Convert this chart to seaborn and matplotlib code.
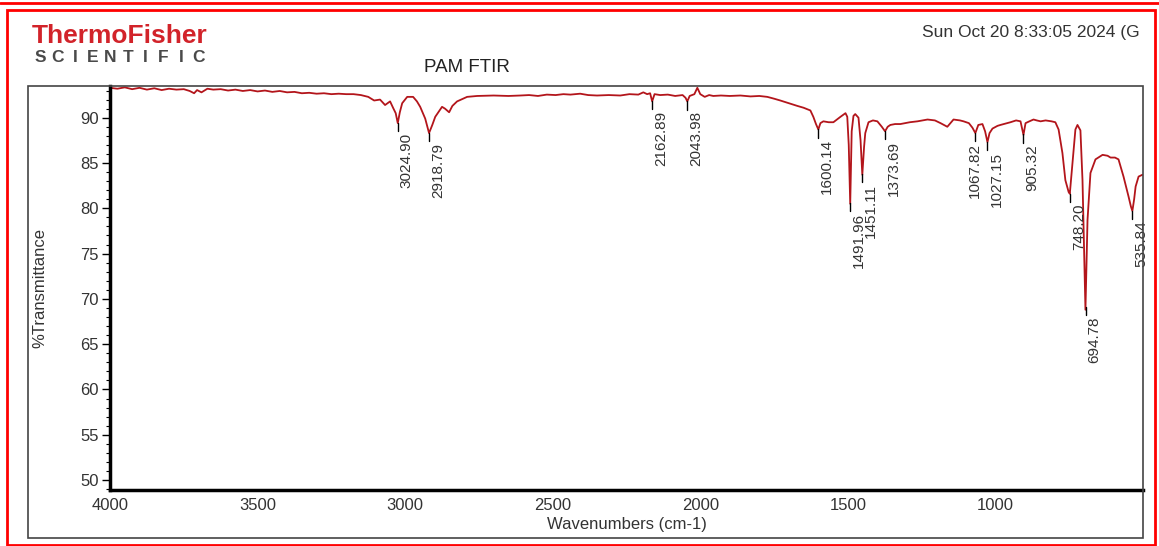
import numpy as np
import pandas as pd
import matplotlib
matplotlib.use("Agg")
import matplotlib.pyplot as plt
import seaborn as sns
from matplotlib.patches import Rectangle
from matplotlib.lines import Line2D

# spectrum: wavenumber (cm-1) and %T
wavenumber = [
    4000, 3975, 3950, 3925, 3900, 3875, 3850, 3825, 3800, 3775, 3750, 3730, 3715, 3705,
    3690, 3670, 3650, 3625, 3600, 3575, 3550, 3525, 3500, 3475, 3450, 3425, 3400, 3375,
    3350, 3325, 3300, 3275, 3250, 3225, 3200, 3175, 3150, 3125, 3105, 3085, 3068, 3051,
    3041, 3032, 3025, 3018, 3010, 2993, 2973, 2960, 2949, 2932, 2919, 2908, 2898, 2875,
    2865, 2851, 2840, 2824, 2790, 2756, 2700, 2650, 2610, 2580, 2550, 2520, 2490, 2464,
    2440, 2407, 2380, 2350, 2310, 2271, 2240, 2210, 2193, 2180, 2170, 2163, 2155, 2136,
    2110, 2085, 2060, 2050, 2044, 2036, 2020, 2010, 2000, 1985, 1970, 1956, 1930, 1900,
    1864, 1830, 1800, 1773, 1750, 1729, 1700, 1671, 1650, 1627, 1617, 1608, 1600, 1593,
    1583, 1565, 1549, 1525, 1508, 1502, 1497, 1492, 1487, 1481, 1475, 1464, 1457, 1451,
    1445, 1441, 1430, 1415, 1400, 1385, 1374, 1365, 1356, 1340, 1322, 1290, 1264, 1230,
    1205, 1186, 1163, 1150, 1142, 1120, 1108, 1090, 1078, 1068, 1058, 1044, 1035, 1027,
    1020, 1010, 993, 983, 960, 949, 930, 915, 905, 898, 885, 871, 860, 847,
    830, 810, 797, 786, 773, 763, 752, 748, 739, 729, 722, 712, 705, 700,
    695, 688, 678, 661, 637, 620, 610, 595, 583, 566, 549, 541, 536, 530,
    525, 515, 502,
]
transmittance = [
    93.3, 93.2, 93.35, 93.15, 93.3, 93.1, 93.25, 93.05, 93.2, 93.1, 93.15, 92.95, 92.7, 93.05,
    92.8, 93.2, 93.1, 93.15, 93.0, 93.1, 92.95, 93.05, 92.9, 93.0, 92.85, 92.95, 92.8, 92.85,
    92.7, 92.75, 92.65, 92.7, 92.6, 92.65, 92.6, 92.6, 92.5, 92.3, 91.9, 92.0, 91.4, 91.8,
    91.1, 90.5, 89.4, 90.6, 91.6, 92.3, 92.3, 91.8, 91.2, 89.9, 88.3, 89.2, 90.1, 91.2,
    91.0, 90.6, 91.3, 91.8, 92.3, 92.4, 92.45, 92.4, 92.45, 92.5, 92.4, 92.55, 92.5, 92.6,
    92.55, 92.65, 92.5, 92.45, 92.5, 92.45, 92.6, 92.55, 92.8, 92.6, 92.7, 91.8, 92.6, 92.5,
    92.55, 92.4, 92.5, 92.2, 91.8, 92.4, 92.6, 93.3, 92.6, 92.3, 92.5, 92.4, 92.45, 92.4,
    92.45, 92.35, 92.4, 92.3, 92.1, 91.9, 91.6, 91.3, 91.1, 90.8, 90.1, 89.3, 88.7, 89.4,
    89.6, 89.5, 89.5, 90.1, 90.5, 90.1, 87.0, 80.5, 88.5, 90.2, 90.4, 90.0, 87.5, 83.7,
    86.8, 88.3, 89.5, 89.7, 89.6, 89.0, 88.5, 89.0, 89.2, 89.3, 89.3, 89.5, 89.6, 89.8,
    89.7, 89.4, 89.0, 89.5, 89.8, 89.7, 89.6, 89.4, 88.9, 88.3, 89.2, 89.3, 88.5, 87.3,
    88.3, 88.8, 89.1, 89.2, 89.4, 89.5, 89.7, 89.6, 88.1, 89.4, 89.6, 89.8, 89.7, 89.6,
    89.7, 89.6, 89.5, 88.7, 86.1, 83.1, 81.8, 81.6, 85.0, 88.7, 89.2, 88.6, 83.1, 75.7,
    68.8, 78.7, 83.9, 85.4, 85.9, 85.8, 85.6, 85.6, 85.4, 83.5, 81.3, 80.2, 79.7, 81.0,
    82.4, 83.5, 83.7,
]

peak_labels = ["3024.90", "2918.79", "2162.89", "2043.98", "1600.14", "1491.96", "1451.11",
               "1373.69", "1067.82", "1027.15", "905.32", "748.20", "694.78", "535.84"]

x_ticks = [4000, 3500, 3000, 2500, 2000, 1500, 1000]
y_ticks = [50, 55, 60, 65, 70, 75, 80, 85, 90]

df = pd.DataFrame({"Wavenumbers": wavenumber, "T": transmittance})

sns.set_theme(style="white")
plt.rcParams['font.family'] = ['Liberation Sans', 'DejaVu Sans']

W, H = 1159, 546
fig = plt.figure(figsize=(W / 100, H / 100), dpi=100)
ax = fig.add_axes([110 / W, 1 - 490 / H, (1143 - 110) / W, (490 - 86) / H])

sns.lineplot(data=df, x="Wavenumbers", y="T", ax=ax, estimator=None, sort=False,
             color="#b3151b", linewidth=1.3)

ax.set_xlim(4000, 500)
ax.set_ylim(48.9, 93.5)
ax.set_xticks(x_ticks)
ax.set_yticks(y_ticks)
ax.set_yticks(np.arange(49, 94, 1), minor=True)
ax.tick_params(axis="y", which="major", direction="out", length=6, width=1,
               color="black", labelsize=12, labelcolor="#333333", pad=2, left=True)
ax.tick_params(axis="y", which="minor", direction="out", length=3, width=0.8,
               color="black", left=True)
ax.tick_params(axis="x", which="major", length=0, labelsize=12,
               labelcolor="#333333", pad=6)
ax.set_xlabel("Wavenumbers (cm-1)", fontsize=12, color="#333333", labelpad=3)
ax.set_ylabel("%Transmittance", fontsize=12, color="#333333", labelpad=24)
for s in ["top", "right"]:
    ax.spines[s].set_visible(False)
for s in ["left", "bottom"]:
    ax.spines[s].set_color("black")
    ax.spines[s].set_linewidth(2.5)

# peak marks: short tick under the minimum and rotated label
nudge = {"1067.82": -10}
for lab in peak_labels:
    wn = float(lab)
    t = np.interp(wn, wavenumber[::-1], transmittance[::-1])
    ax.plot([wn, wn], [t, t - 0.9], color="black", lw=1)
    ax.annotate(lab, xy=(wn, t), xytext=(6.5 + nudge.get(lab, 0) * 0.72, -7),
                textcoords="offset points", rotation=90, ha="center", va="top",
                fontsize=11, color="#333333", annotation_clip=False)

# frames
fig.patches.append(Rectangle((28 / W, 1 - 538 / H), (1143 - 28) / W, (538 - 86) / H,
                             transform=fig.transFigure, fill=False, ec="#444444", lw=1.2))
fig.patches.append(Rectangle((7 / W, 1 - 545 / H), (1155 - 7) / W, (545 - 10) / H,
                             transform=fig.transFigure, fill=False, ec="red", lw=2))
fig.lines.append(Line2D([0, 1], [1 - 3 / H, 1 - 3 / H], transform=fig.transFigure,
                        color="red", lw=2))

# header texts
fig.text(32 / W, 1 - 36 / H, "ThermoFisher", fontsize=19, fontweight="bold",
         color="#d2232a", ha="left", va="center")
for i, ch in enumerate("SCIENTIFIC"):
    fig.text((40 + i * 17.6) / W, 1 - 58 / H, ch, fontsize=12.5, fontweight="bold",
             color="#4a4a4a", ha="center", va="center")
fig.text(467 / W, 1 - 67 / H, "PAM FTIR", fontsize=13.5, color="#222222",
         ha="center", va="center")
fig.text(1140 / W, 1 - 33 / H, "Sun Oct 20 8:33:05 2024 (G", fontsize=12.5,
         color="#333333", ha="right", va="center")

fig.savefig("out.png", dpi=100)
